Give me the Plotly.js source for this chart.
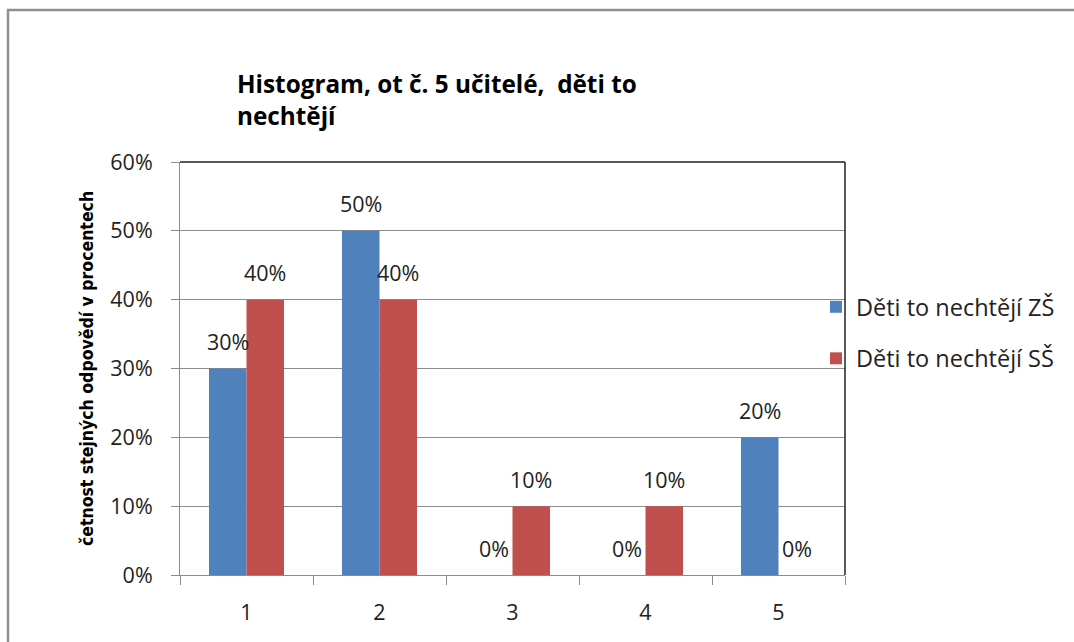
<!DOCTYPE html>
<html>
<head>
<meta charset="utf-8">
<script src="https://cdn.plot.ly/plotly-3.0.1.min.js"></script>
<style>html,body{margin:0;padding:0;background:#fff;}#chart{width:1074px;height:642px;}</style>
</head>
<body>
<div id="chart"></div>
<script>
const categories = ['1', '2', '3', '4', '5'];
const seriesNames = ['Děti to nechtějí ZŠ', 'Děti to nechtějí SŠ'];
const valuesZS = [0.30, 0.50, 0.00, 0.00, 0.20];
const valuesSS = [0.40, 0.40, 0.10, 0.10, 0.00];
const yTickValues = [0, 0.1, 0.2, 0.3, 0.4, 0.5, 0.6];
const titleText = 'Histogram, ot č. 5 učitelé,  děti to<br>nechtějí';
const yTitleText = 'četnost stejných odpovědí v procentech';

const colors = ['#4F81BD', '#C0504D'];
const allSeries = [valuesZS, valuesSS];
const gridColor = '#8c8c8c';
const fontMain = '"Open Sans", Lato, sans-serif';

const traces = allSeries.map((vals, i) => ({
  type: 'bar',
  name: seriesNames[i],
  x: categories,
  y: vals,
  marker: {color: colors[i]},
  legendgroup: 'g' + i,
  hoverinfo: 'skip'
}));

const annotations = [];
allSeries.forEach((vals, i) => {
  vals.forEach((v, j) => {
    annotations.push({
      xref: 'x', yref: 'y',
      x: j, y: v,
      xshift: i === 0 ? -18.75 : 18.75,
      yshift: 27,
      yanchor: 'middle', xanchor: 'center',
      text: Math.round(v * 100) + '%',
      showarrow: false,
      font: {family: fontMain, size: 21.5, color: '#222'}
    });
  });
});

const layout = {
  width: 1074, height: 642,
  margin: {l: 180, r: 229, t: 162, b: 67},
  paper_bgcolor: '#fff', plot_bgcolor: '#fff',
  barmode: 'group',
  bargap: 0.436, bargroupgap: 0,
  showlegend: true,
  title: {
    text: titleText,
    x: 237 / 1074, xanchor: 'left', xref: 'container',
    y: 1 - 93 / 642, yanchor: 'top', yref: 'container',
    font: {family: fontMain, size: 24.3, color: '#000', weight: 'bold'}
  },
  xaxis: {
    type: 'category',
    range: [-0.5, 4.5],
    tickson: 'boundaries',
    ticks: 'outside', ticklen: 9, tickcolor: gridColor, tickwidth: 1,
    showline: true, linecolor: gridColor, linewidth: 1,
    showgrid: false, zeroline: false,
    ticklabelstandoff: 18,
    tickfont: {family: fontMain, size: 21.5, color: '#222'}
  },
  yaxis: {
    range: [0, 0.6],
    tickvals: yTickValues,
    tickformat: '.0%',
    ticks: 'outside', ticklen: 8, tickcolor: gridColor, tickwidth: 1,
    showline: true, linecolor: gridColor, linewidth: 1,
    showgrid: true, gridcolor: gridColor, gridwidth: 1,
    zeroline: false,
    ticklabelstandoff: 14,
    tickfont: {family: fontMain, size: 21.5, color: '#222'},
    title: {
      text: yTitleText,
      standoff: 12,
      font: {family: '"Liberation Sans Narrow", "DejaVu Sans Condensed", sans-serif', size: 17.5, color: '#000', weight: 'bold'}
    }
  },
  legend: {
    x: (816 - 180) / 665, xanchor: 'left',
    y: (575 - 285) / 413, yanchor: 'top',
    bgcolor: 'rgba(0,0,0,0)',
    tracegroupgap: 18,
    traceorder: 'grouped',
    font: {family: fontMain, size: 23.5, color: '#222'}
  },
  annotations: annotations,
  shapes: [
    {type: 'line', xref: 'paper', yref: 'paper', x0: 0, x1: 1, y0: 1, y1: 1, line: {color: '#222', width: 1.5}},
    {type: 'line', xref: 'paper', yref: 'paper', x0: 1, x1: 1, y0: 0, y1: 1, line: {color: '#222', width: 1.5}},
    {type: 'rect', xref: 'paper', yref: 'paper', x0: (8 - 180) / 665, x1: (1090 - 180) / 665, y0: (575 - 660) / 413, y1: (575 - 10) / 413, line: {color: '#8f8f8f', width: 2.5}, fillcolor: 'rgba(0,0,0,0)'}
  ]
};

Plotly.newPlot('chart', traces, layout, {displayModeBar: false, staticPlot: true});
</script>
</body>
</html>
